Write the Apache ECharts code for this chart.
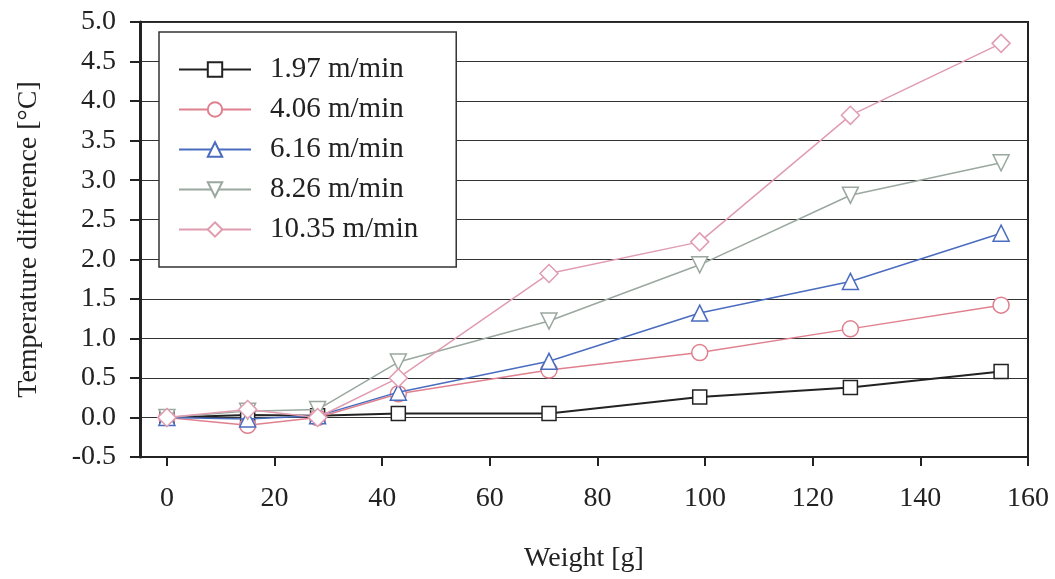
<!DOCTYPE html>
<html>
<head>
<meta charset="utf-8">
<script src="https://cdn.jsdelivr.net/npm/echarts@6/dist/echarts.min.js"></script>
<style>
  html, body { margin: 0; padding: 0; background: #fff; }
  #chart { width: 1055px; height: 579px; }
</style>
</head>
<body>
<div id="chart"></div>
<script>
// weights [g] where the temperature difference was measured
const weights = [0, 15, 28, 43, 71, 99, 127, 155]
const seriesNames = ['1.97 m/min', '4.06 m/min', '6.16 m/min', '8.26 m/min', '10.35 m/min']
const v197 = [0, 0.03, 0.02, 0.05, 0.05, 0.26, 0.38, 0.58]
const v406 = [0, -0.1, 0.0, 0.3, 0.6, 0.82, 1.12, 1.42]
const v616 = [0, -0.02, 0.02, 0.32, 0.71, 1.32, 1.72, 2.33]
const v826 = [0, 0.08, 0.1, 0.7, 1.22, 1.93, 2.81, 3.22]
const v1035 = [0, 0.1, 0.0, 0.5, 1.82, 2.22, 3.82, 4.73]
const xTicks = [0, 20, 40, 60, 80, 100, 120, 140, 160]

const font = '"Liberation Serif", "Times New Roman", serif'
const colors = ['#222222', '#e0808f', '#4a6cbf', '#9aa89f', '#e09cb0']
const symbols = ['rect', 'circle', 'triangle', 'path://M0,0 L10,0 L5,9 Z', 'diamond']
const sizes = [14, 16, 16, 16, 18]
const values = [v197, v406, v616, v826, v1035]

const chart = echarts.init(document.getElementById('chart'))

const series = values.map((vals, i) => {
  return {
    name: seriesNames[i],
    type: 'line',
    data: vals.map((v, j) => [weights[j], v]),
    symbol: symbols[i],
    symbolSize: sizes[i],
    showAllSymbol: true,
    lineStyle: { color: colors[i], width: i === 0 ? 2 : 1.5 },
    itemStyle: { color: '#fff', borderColor: colors[i], borderWidth: 1.5 },
    emphasis: { disabled: true },
    z: 3 + i
  }
})

chart.setOption({
  animation: false,
  backgroundColor: '#fff',
  grid: {
    left: 140,
    right: 27,
    top: 22,
    bottom: 122,
    show: true,
    borderColor: '#222',
    borderWidth: 2
  },
  legend: {
    orient: 'vertical',
    left: 159,
    top: 32,
    data: seriesNames,
    backgroundColor: '#fff',
    borderColor: '#333',
    borderWidth: 1.5,
    borderRadius: 0,
    padding: [23, 38, 23, 19],
    itemWidth: 72,
    itemHeight: 18,
    itemGap: 11,
    textStyle: {
      fontFamily: font,
      fontSize: 29,
      color: '#222',
      padding: [0, 0, 0, 14]
    }
  },
  xAxis: {
    type: 'value',
    min: -5,
    max: 160,
    name: 'Weight [g]',
    nameLocation: 'middle',
    nameGap: 88,
    nameTextStyle: { fontFamily: font, fontSize: 28, color: '#222' },
    axisLine: { show: true, onZero: false, lineStyle: { color: '#222', width: 2 } },
    axisTick: {
      show: true,
      inside: false,
      length: 9,
      customValues: xTicks,
      lineStyle: { color: '#222', width: 2 }
    },
    axisLabel: {
      customValues: xTicks,
      margin: 28,
      fontFamily: font,
      fontSize: 28,
      color: '#222'
    },
    splitLine: { show: false }
  },
  yAxis: {
    type: 'value',
    min: -0.5,
    max: 5,
    interval: 0.5,
    name: 'Temperature difference [°C]',
    nameLocation: 'middle',
    nameGap: 97,
    nameTextStyle: { fontFamily: font, fontSize: 28, color: '#222' },
    axisLine: { show: true, onZero: false, lineStyle: { color: '#222', width: 3 } },
    axisTick: { show: true, inside: false, length: 10, lineStyle: { color: '#222', width: 2 } },
    axisLabel: {
      margin: 24,
      fontFamily: font,
      fontSize: 28,
      color: '#222',
      formatter: v => v.toFixed(1)
    },
    splitLine: { show: true, lineStyle: { color: '#333', width: 1.2 } }
  },
  series: series
})
</script>
</body>
</html>
